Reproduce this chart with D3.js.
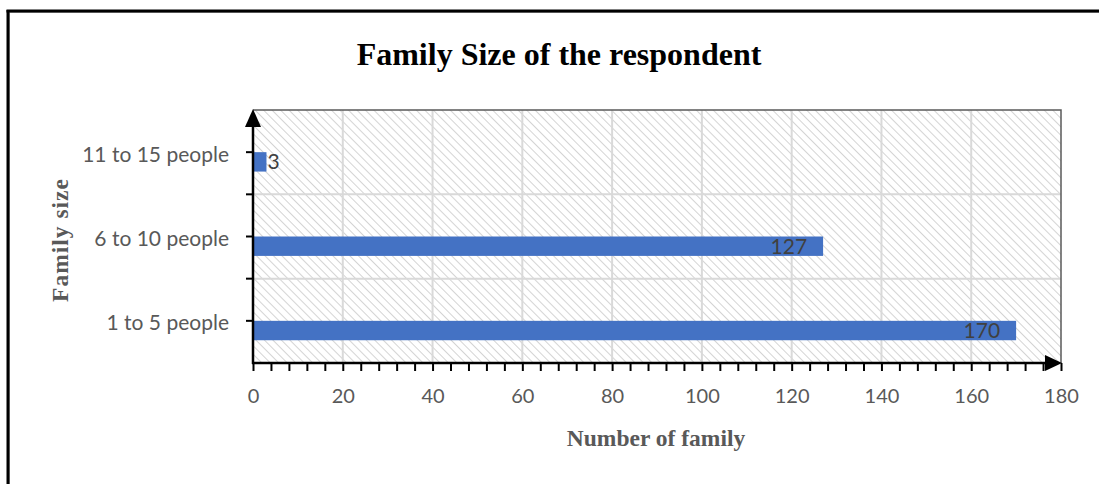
<!DOCTYPE html>
<html>
<head>
<meta charset="utf-8">
<script src="https://cdn.jsdelivr.net/npm/d3@7"></script>
<style>
  html, body { margin: 0; padding: 0; background: #fff; }
  svg { display: block; }
</style>
</head>
<body>
<svg id="chart" width="1099" height="484"></svg>
<script>
// Family size categories, top to bottom as drawn
const categories = ["11 to 15 people", "6 to 10 people", "1 to 5 people"];
// Number of families in each category
const familyCounts = [3, 127, 170];
// Axis tick values
const xMajorTicks = [0, 20, 40, 60, 80, 100, 120, 140, 160, 180];
const xMinorStep = 4;

const chartTitle = "Family Size of the respondent";
const xTitle = "Number of family";
const yTitle = "Family size";

const W = 1099, H = 484;
const plot = { left: 253, right: 1061, top: 110, bottom: 363 };

const svg = d3.select("#chart");

// diagonal hatch fill for the plot area (downward diagonal)
const defs = svg.append("defs");
const pat = defs.append("pattern")
  .attr("id", "hatch")
  .attr("patternUnits", "userSpaceOnUse")
  .attr("width", 6).attr("height", 6)
  .attr("patternTransform", "rotate(-45)");
pat.append("rect").attr("width", 6).attr("height", 6).attr("fill", "#fff");
pat.append("line")
  .attr("x1", 0).attr("y1", 0).attr("x2", 0).attr("y2", 6)
  .attr("stroke", "#d4d4d4").attr("stroke-width", 2);

// outer frame (left and top edges)
svg.append("line").attr("x1", 9.5).attr("x2", 9.5).attr("y1", 12).attr("y2", H)
  .attr("stroke", "#aaa").attr("stroke-width", 1);
svg.append("line").attr("x1", 10).attr("x2", W).attr("y1", 12.5).attr("y2", 12.5)
  .attr("stroke", "#aaa").attr("stroke-width", 1);
svg.append("line").attr("x1", 8).attr("x2", 8).attr("y1", 10).attr("y2", H)
  .attr("stroke", "#000").attr("stroke-width", 3);
svg.append("line").attr("x1", 6.5).attr("x2", W).attr("y1", 11).attr("y2", 11)
  .attr("stroke", "#000").attr("stroke-width", 3);

const x = d3.scaleLinear().domain([0, 180]).range([plot.left, plot.right]);
const y = d3.scaleBand().domain(categories).range([plot.top, plot.bottom]).padding(0);

// plot area background
svg.append("rect")
  .attr("x", plot.left).attr("y", plot.top)
  .attr("width", plot.right - plot.left).attr("height", plot.bottom - plot.top)
  .attr("fill", "url(#hatch)");

// vertical gridlines
svg.append("g").selectAll("line")
  .data(xMajorTicks.filter(d => d > 0 && d < 180))
  .join("line")
  .attr("x1", d => x(d)).attr("x2", d => x(d))
  .attr("y1", plot.top).attr("y2", plot.bottom)
  .attr("stroke", "#d9d9d9").attr("stroke-width", 2);

// horizontal gridlines at category boundaries
const boundaries = categories.slice(1).map(c => y(c));
svg.append("g").selectAll("line")
  .data(boundaries)
  .join("line")
  .attr("x1", plot.left).attr("x2", plot.right)
  .attr("y1", d => d).attr("y2", d => d)
  .attr("stroke", "#d9d9d9").attr("stroke-width", 2);

// plot area top and right border
svg.append("path")
  .attr("d", `M${plot.left},${plot.top}H${plot.right}V${plot.bottom}`)
  .attr("fill", "none").attr("stroke", "#595959").attr("stroke-width", 1.5);

// bars: sit in the lower half-slot of each category band
const barH = y.bandwidth() * 0.23;
svg.append("g").selectAll("rect")
  .data(categories.map((c, i) => ({ c, v: familyCounts[i] })))
  .join("rect")
  .attr("x", x(0))
  .attr("y", d => y(d.c) + y.bandwidth() / 2)
  .attr("width", d => x(d.v) - x(0))
  .attr("height", barH)
  .attr("fill", "#4472c4");

// value labels
const labelFont = "Lato, 'Open Sans', sans-serif";
svg.append("g").selectAll("text")
  .data(categories.map((c, i) => ({ c, v: familyCounts[i] })))
  .join("text")
  .attr("x", d => d.v < 20 ? x(d.v) + 1 : x(d.v) - 16)
  .attr("y", d => y(d.c) + y.bandwidth() / 2 + barH / 2)
  .attr("dy", "0.36em")
  .attr("text-anchor", d => d.v < 20 ? "start" : "end")
  .attr("font-family", labelFont)
  .attr("font-size", 21)
  .attr("fill", "#404040")
  .text(d => d.v);

// x axis with minor ticks every 4
const xAxis = d3.axisBottom(x)
  .tickValues(d3.range(0, 181, xMinorStep))
  .tickSize(8)
  .tickFormat(d => xMajorTicks.includes(d) ? d : "");
const gx = svg.append("g")
  .attr("transform", `translate(0,${plot.bottom})`)
  .call(xAxis);
gx.select(".domain").remove();
gx.selectAll(".tick line").attr("stroke", "#000").attr("stroke-width", 2);
gx.selectAll(".tick text")
  .attr("y", 26)
  .attr("font-family", labelFont)
  .attr("font-size", 20)
  .attr("fill", "#595959");
gx.append("line")
  .attr("x1", plot.left - 1).attr("x2", plot.right - 10)
  .attr("y1", 0).attr("y2", 0)
  .attr("stroke", "#000").attr("stroke-width", 2.5);
gx.append("path")
  .attr("d", `M${plot.right + 1},0L${plot.right - 16},-8L${plot.right - 16},8Z`)
  .attr("fill", "#000");

// y axis: ticks at category centres plus boundaries
const yAxis = d3.axisLeft(y).tickSize(7).tickPadding(17);
const gy = svg.append("g")
  .attr("transform", `translate(${plot.left},0)`)
  .call(yAxis);
gy.select(".domain").remove();
gy.selectAll(".tick line").attr("stroke", "#000").attr("stroke-width", 2);
gy.selectAll(".tick text")
  .attr("dy", "0.45em")
  .attr("font-family", labelFont)
  .attr("font-size", 21)
  .attr("fill", "#595959");
gy.selectAll(".bound")
  .data(boundaries)
  .join("line")
  .attr("x1", -7).attr("x2", 0)
  .attr("y1", d => d).attr("y2", d => d)
  .attr("stroke", "#000").attr("stroke-width", 2);
gy.append("line")
  .attr("x1", 0).attr("x2", 0)
  .attr("y1", plot.top + 10).attr("y2", plot.bottom + 1)
  .attr("stroke", "#000").attr("stroke-width", 2.5);
gy.append("path")
  .attr("d", `M0,${plot.top - 1}L-8,${plot.top + 17}L8,${plot.top + 17}Z`)
  .attr("fill", "#000");

// titles
svg.append("text")
  .attr("x", 559).attr("y", 65)
  .attr("text-anchor", "middle")
  .attr("font-family", "'Liberation Serif', 'Times New Roman', serif")
  .attr("font-weight", "bold")
  .attr("font-size", 32)
  .attr("fill", "#000")
  .text(chartTitle);

svg.append("text")
  .attr("x", 656).attr("y", 446)
  .attr("text-anchor", "middle")
  .attr("font-family", "'Liberation Serif', 'Times New Roman', serif")
  .attr("font-weight", "bold")
  .attr("font-size", 23.5)
  .attr("fill", "#595959")
  .text(xTitle);

svg.append("text")
  .attr("transform", `translate(68,240) rotate(-90)`)
  .attr("text-anchor", "middle")
  .attr("font-family", "'Liberation Serif', 'Times New Roman', serif")
  .attr("font-weight", "bold")
  .attr("font-size", 23.5)
  .attr("letter-spacing", 1)
  .attr("fill", "#595959")
  .text(yTitle);
</script>
</body>
</html>
